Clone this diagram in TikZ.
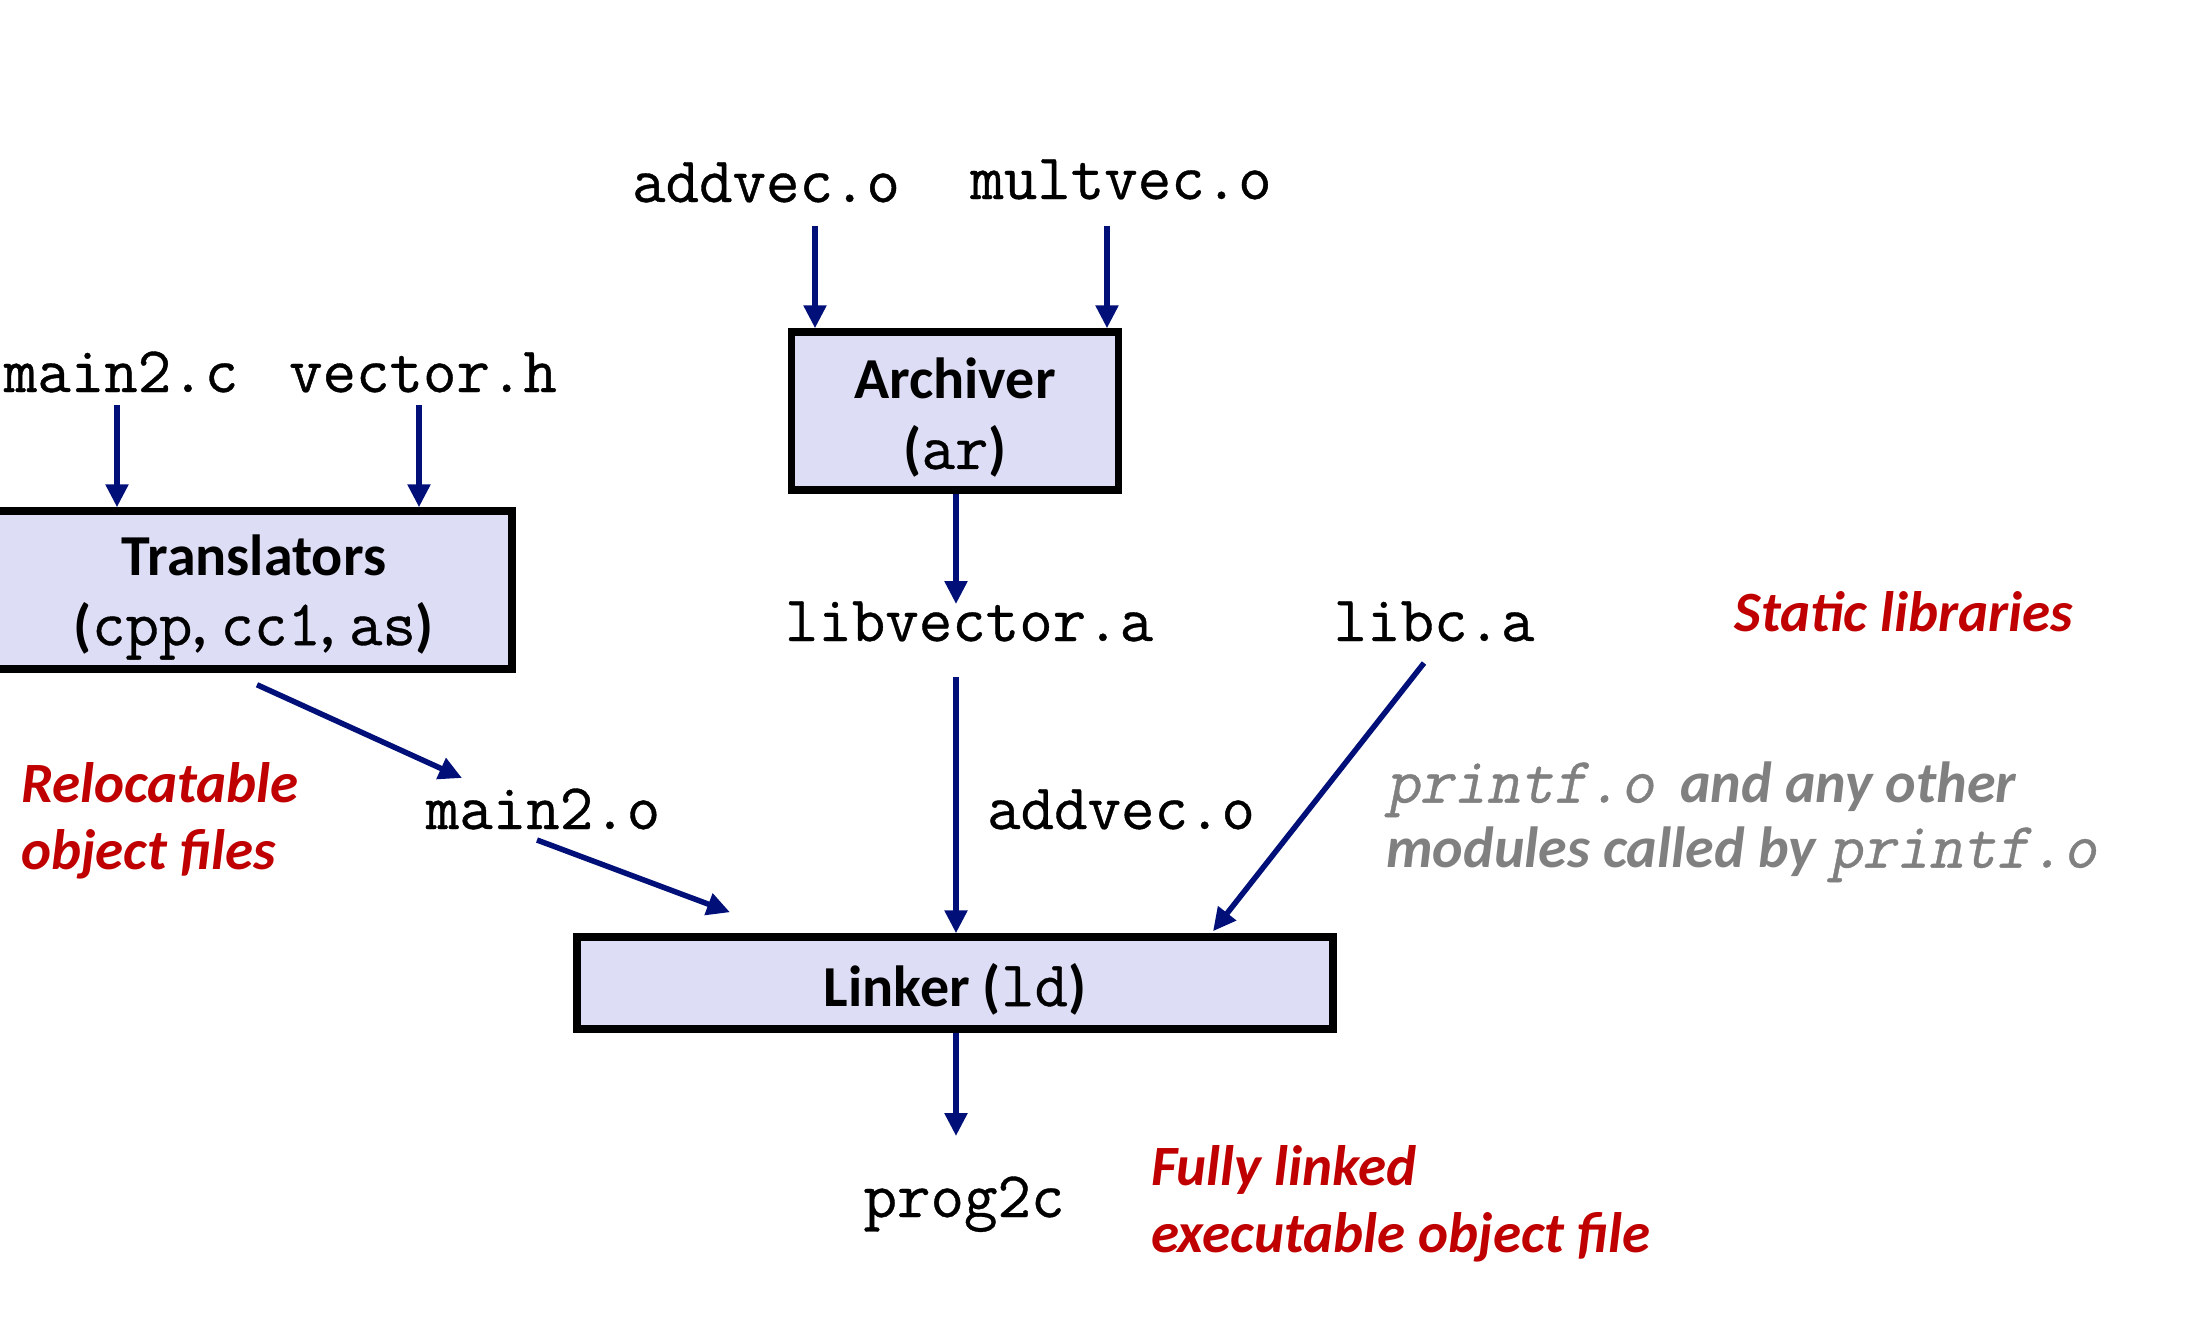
\documentclass[tikz,border=0pt]{standalone}
\usepackage{fontspec}
\setmainfont{Carlito}
\newfontfamily\mono[FakeBold=0.6]{Latin Modern Mono}
\newfontfamily\monosl[FakeSlant=0.2,FakeBold=0.6]{Latin Modern Mono}
\usetikzlibrary{arrows.meta}
\definecolor{navyc}{RGB}{0,16,120}
\definecolor{boxfill}{RGB}{221,221,245}
\definecolor{redc}{RGB}{192,0,0}
\definecolor{grayc}{RGB}{128,128,128}
\tikzset{
  mono/.style={font=\mono\fontsize{65}{68}\selectfont, inner sep=0pt},
  box/.style={draw=black, line width=7.5pt, fill=boxfill, inner sep=0pt},
  boxtext/.style={align=center, inner sep=0pt, font=\bfseries\fontsize{58}{70}\selectfont},
  redtxt/.style={text=redc, font=\bfseries\itshape\fontsize{57}{67}\selectfont, inner sep=0pt, align=left},
  graytxt/.style={text=grayc, font=\bfseries\itshape\fontsize{58}{65}\selectfont, inner sep=0pt, align=left},
  arr/.style={draw=navyc, line width=5.5pt, -{Triangle[length=23pt,width=22pt]}},
}
\newcommand{\mm}[1]{{\mono\fontsize{65}{70}\selectfont\mdseries\upshape #1}}
\newcommand{\mi}[1]{{\monosl\fontsize{65}{65}\selectfont\mdseries\upshape #1}}
\begin{document}
\begin{tikzpicture}[x=1pt,y=-1pt]
\fill[white] (0,0) rectangle (2211,1335);
\useasboundingbox (0,0) rectangle (2211,1335);

% top inputs
\node[mono,anchor=base] (addvec) at (766,202) {addvec.o};
\node[mono,anchor=base] (multvec) at (1121,199) {multvec.o};
\node[box, minimum width=327pt, minimum height=158pt] (archiver) at (955,411) {};
\node[boxtext] (archivertext) at ([yshift=-7pt]archiver.center) {Archiver\\(\mm{ar})};

\node[mono,anchor=base] (libvector) at (969,641) {libvector.a};
\node[mono,anchor=base] (libc) at (1434,641) {libc.a};
\node[redtxt,anchor=base] (static) at (1904,631) {Static libraries};

\node[mono,anchor=base] (main2c) at (121,392) {main2.c};
\node[mono,anchor=base] (vectorh) at (423,392) {vector.h};
\node[box, minimum width=516pt, minimum height=158pt] (trans) at (254,590) {};
\node[boxtext] (transtext) at ([yshift=-7pt]trans.center) {Translators\\(\mm{cpp}, \mm{cc1}, \mm{as})};

\node[redtxt,anchor=west] (reloc) at (21,821) {Relocatable\\object files};
\node[mono,anchor=base] (main2o) at (543,829) {main2.o};
\node[mono,anchor=base] (addvec2) at (1121,829) {addvec.o};
\node[graytxt,anchor=west] (printf) at (1386,822) {\mi{printf.o}\ \ and any other\\modules called by \mi{printf.o}};

\node[box, minimum width=756pt, minimum height=92pt] (linker) at (955,983) {};
\node[boxtext] (linkertext) at ([yshift=-6pt]linker.center) {Linker (\mm{ld})};

\node[mono,anchor=base] (prog) at (964,1217) {prog2c};
\node[redtxt,anchor=west] (fully) at (1151,1204) {Fully linked\\executable object file};

% connectors
\draw[arr] ([xshift=49pt,yshift=-24pt]addvec.base) -- ([xshift=-140pt]archiver.north);
\draw[arr] ([xshift=-14pt,yshift=-27pt]multvec.base) -- ([xshift=152pt]archiver.north);
\draw[arr] ([xshift=1pt]archiver.south) -- ([xshift=-13pt,yshift=37pt]libvector.base);
\draw[arr] ([xshift=-4pt,yshift=-13pt]main2c.base) -- ([xshift=-137pt]trans.north);
\draw[arr] ([xshift=-4pt,yshift=-13pt]vectorh.base) -- ([xshift=165pt]trans.north);
\draw[arr] ([xshift=3pt,yshift=-12pt]trans.south) -- ([xshift=-81pt,yshift=51pt]main2o.base);
\draw[arr] ([xshift=-6pt,yshift=-11pt]main2o.base) -- ([xshift=-225pt,yshift=21pt]linker.north);
\draw[arr] ([xshift=-13pt,yshift=-36pt]libvector.base) -- ([xshift=1pt]linker.north);
\draw[arr] ([xshift=-10pt,yshift=-22pt]libc.base) -- ([xshift=258pt,yshift=2pt]linker.north);
\draw[arr] ([xshift=1pt]linker.south) -- ([xshift=-8pt,yshift=81pt]prog.base);
\end{tikzpicture}
\end{document}
